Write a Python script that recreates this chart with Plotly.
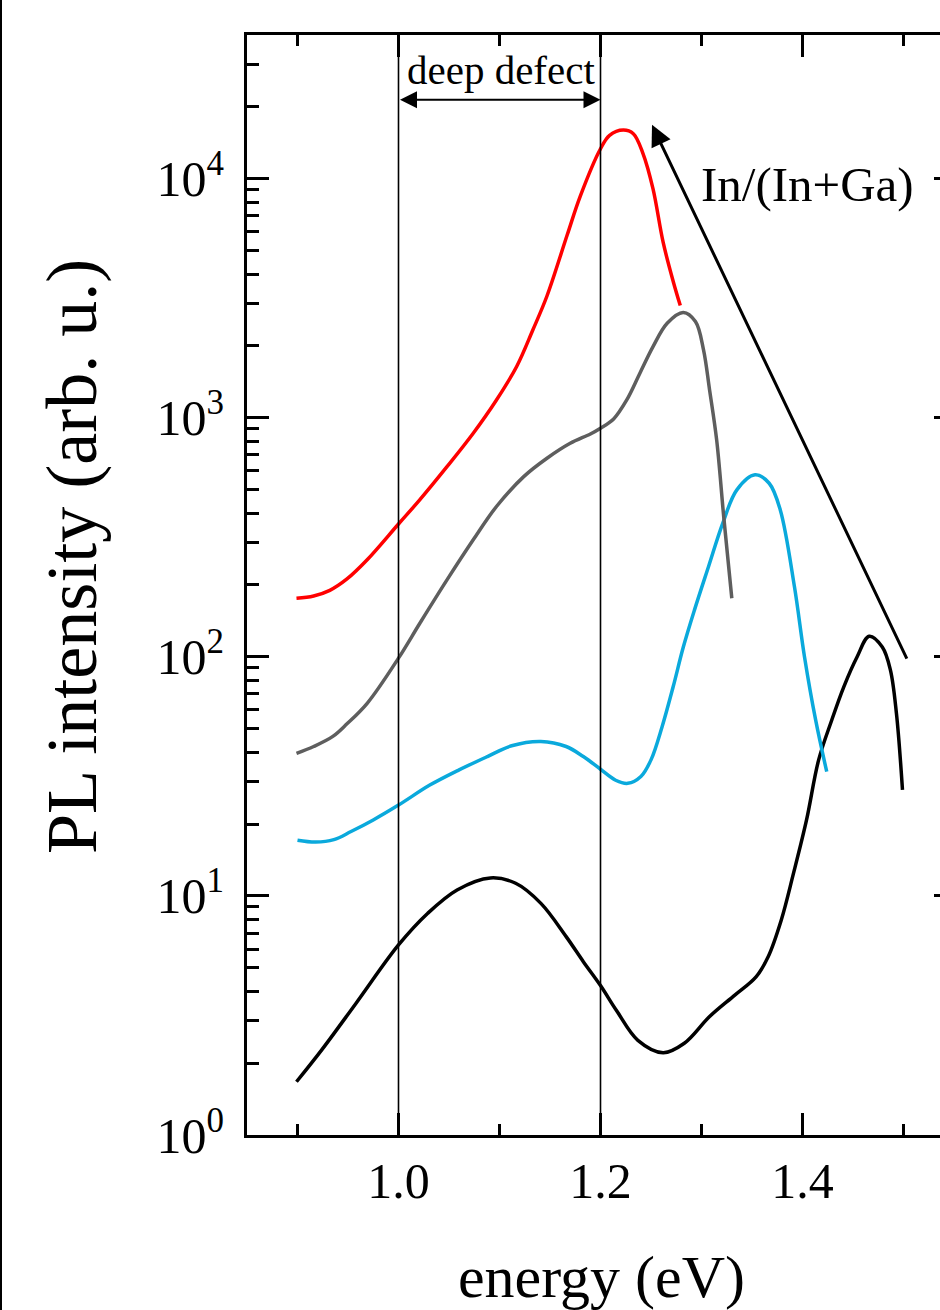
import plotly.graph_objects as go

# ---------------- data ----------------
red_energy = [0.899, 0.916, 0.932, 0.949, 0.969, 1.0, 1.021, 1.048, 1.074, 1.097, 1.117, 1.133,
              1.147, 1.167, 1.180, 1.1995, 1.209, 1.2226, 1.2325, 1.242, 1.252, 1.262, 1.272, 1.279]
red_pl = [176, 180, 190, 212, 255, 360, 454, 625, 863, 1189, 1641, 2333,
          3236, 5821, 8472, 13240, 15210, 16000, 15450, 12790, 9078, 5433, 3724, 2951]

gray_energy = [0.899, 0.916, 0.935, 0.949, 0.969, 1.0, 1.021, 1.048, 1.074, 1.097, 1.124, 1.147,
               1.170, 1.190, 1.2, 1.213, 1.226, 1.239, 1.252, 1.266, 1.282, 1.294, 1.302, 1.308,
               1.315, 1.322, 1.330]
gray_pl = [39.5, 42.2, 46.5, 52.5, 64.0, 98.9, 138, 210, 309, 426, 568, 678,
           783, 857, 906, 990, 1189, 1538, 1986, 2489, 2761, 2529, 1928, 1309,
           809, 386, 176]

cyan_energy = [0.900, 0.918, 0.936, 0.953, 0.975, 1.0, 1.031, 1.060, 1.088, 1.112, 1.141, 1.166,
               1.183, 1.2, 1.215, 1.227, 1.240, 1.250, 1.261, 1.272, 1.282, 1.293, 1.307, 1.321,
               1.335, 1.353, 1.367, 1.378, 1.392, 1.402, 1.413, 1.424]
cyan_pl = [17.1, 16.8, 17.2, 18.6, 20.8, 24.0, 29.1, 33.7, 38.3, 42.5, 44.3, 42.2,
           38.3, 33.9, 30.5, 29.6, 31.6, 37.1, 51.1, 75.2, 110, 157, 239, 362,
           500, 578, 533, 412, 197, 100, 54.5, 33.1]

black_energy = [0.899, 0.924, 0.958, 1.0, 1.029, 1.058, 1.091, 1.116, 1.141, 1.166, 1.183, 1.2,
                1.216, 1.237, 1.262, 1.283, 1.308, 1.333, 1.354, 1.366, 1.379, 1.391, 1.404, 1.416,
                1.429, 1.441, 1.454, 1.466, 1.479, 1.487, 1.493, 1.499]
black_pl = [1.67, 2.27, 3.56, 6.24, 8.47, 10.6, 11.9, 11.3, 9.31, 6.76, 5.31, 4.22,
            3.31, 2.49, 2.21, 2.42, 3.13, 3.85, 4.59, 5.57, 7.94, 12.4, 20.8, 37.1,
            54.5, 75.2, 100, 122, 110, 88.3, 58.1, 27.8]

x_ticks = [1.0, 1.2, 1.4]
x_ticklabels = ["1.0", "1.2", "1.4"]
x_minor = [0.9, 1.1, 1.3, 1.5]
y_ticks = [1, 10, 100, 1000, 10000]
y_ticklabels = ["10<sup>0</sup>", "10<sup>1</sup>", "10<sup>2</sup>", "10<sup>3</sup>", "10<sup>4</sup>"]
y_minor = [m * 10 ** d for d in range(5) for m in range(2, 10) if m * 10 ** d < 40000]

defect_lo, defect_hi = 1.0, 1.2

FONT = "Liberation Serif, Times New Roman, serif"

fig = go.Figure()
series = [
    (black_energy, black_pl, "#000000"),
    (cyan_energy, cyan_pl, "#0aa9dc"),
    (gray_energy, gray_pl, "#5e5e5e"),
    (red_energy, red_pl, "#ff0000"),
]
for xs, ys, col in series:
    fig.add_trace(go.Scatter(x=xs, y=ys, mode="lines",
                             line=dict(color=col, width=3.5, shape="spline", smoothing=1.0),
                             showlegend=False, hoverinfo="skip"))

# vertical delimiting lines
for xv in (defect_lo, defect_hi):
    fig.add_shape(type="line", xref="x", yref="paper", x0=xv, x1=xv, y0=0, y1=1,
                  line=dict(color="black", width=1.6))

# double arrow "deep defect"
fig.add_annotation(x=defect_hi, y=4.331, ax=defect_lo, ay=4.331, xref="x", yref="y",
                   axref="x", ayref="y", showarrow=True, arrowhead=2, arrowside="end+start",
                   arrowsize=1.7, arrowwidth=2, arrowcolor="black", text="")
fig.add_annotation(x=1.101, y=4.456, xref="x", yref="y", text="deep defect", showarrow=False,
                   font=dict(family=FONT, size=41, color="black"))

# big arrow In/(In+Ga)
fig.add_annotation(x=1.251, y=4.226, ax=1.504, ay=1.987, xref="x", yref="y",
                   axref="x", ayref="y", showarrow=True, arrowhead=2, arrowsize=1.4,
                   arrowwidth=3, arrowcolor="black", text="")
fig.add_annotation(x=1.405, y=3.975, xref="x", yref="y", text="In/(In+Ga)", showarrow=False,
                   font=dict(family=FONT, size=49, color="black"))

W, L, R = 970, 247, 14
plot_w = W - L - R

# y-axis title (placed as in the reference, slightly above centre)
fig.add_annotation(x=(72 - L) / plot_w, y=(1135 - 557) / 1100, xref="paper", yref="paper",
                   text="PL intensity (arb. u.)", textangle=-90, showarrow=False,
                   xanchor="center", yanchor="middle",
                   font=dict(family=FONT, size=72, color="black"))

# left frame line of the original picture
fig.add_shape(type="line", xref="paper", yref="paper", x0=-(L - 1) / plot_w, x1=-(L - 1) / plot_w,
              y0=-0.2, y1=1.04, line=dict(color="black", width=2))

fig.update_xaxes(range=[0.85, 0.85 + plot_w / 1010], showline=True, linewidth=3, linecolor="black",
                 mirror="allticks", ticks="inside", ticklen=22, tickwidth=3, tickcolor="black",
                 tickmode="array", tickvals=x_ticks, ticktext=x_ticklabels,
                 minor=dict(tickmode="array", tickvals=x_minor, ticks="inside", ticklen=11,
                            tickwidth=3, tickcolor="black", showgrid=False),
                 showgrid=False, zeroline=False,
                 tickfont=dict(family=FONT, size=50, color="black"),
                 title=dict(text="energy (eV)", font=dict(family=FONT, size=60, color="black"),
                            standoff=48))
fig.update_yaxes(type="log", range=[0, 4.602], showline=True, linewidth=3, linecolor="black",
                 mirror="allticks", ticks="inside", ticklen=22, tickwidth=3, tickcolor="black",
                 tickmode="array", tickvals=y_ticks, ticktext=y_ticklabels,
                 minor=dict(tickmode="array", tickvals=y_minor, ticks="inside", ticklen=12,
                            tickwidth=3, tickcolor="black", showgrid=False),
                 showgrid=False, zeroline=False, ticklabelstandoff=10,
                 tickfont=dict(family=FONT, size=50, color="black"))

fig.update_layout(width=W, height=1310, margin=dict(l=L, r=R, t=35, b=175),
                  paper_bgcolor="white", plot_bgcolor="white",
                  font=dict(family=FONT, color="black"))

fig.write_html("out.html", config={"displayModeBar": False},
               post_script="document.body.style.margin='0';"
                           "document.body.style.overflow='hidden';"
                           "document.documentElement.style.overflow='hidden';")
